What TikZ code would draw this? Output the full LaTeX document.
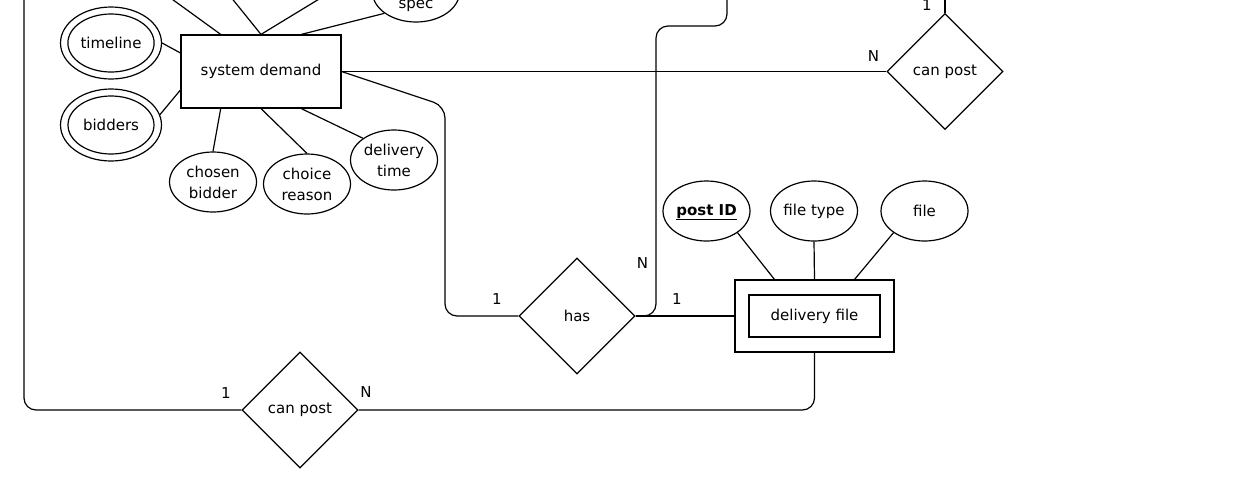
\documentclass[tikz,border=0pt]{standalone}
\usepackage{fontspec}
\setmainfont{DejaVu Sans}
\usetikzlibrary{shapes.geometric,calc}
\begin{document}
\begin{tikzpicture}[x=1pt,y=-1pt, line width=1.2pt,
  font=\fontsize{15}{21}\selectfont,
  ent/.style={draw, rectangle, minimum width=160pt, minimum height=73pt, inner sep=0pt},
  attr/.style={draw, ellipse, minimum width=87pt, minimum height=60pt, inner sep=0pt, align=center},
  mvouter/.style={draw, ellipse, minimum width=101pt, minimum height=72pt, inner sep=0pt},
  mvinner/.style={draw, ellipse, minimum width=86pt, minimum height=58pt, inner sep=0pt},
  rel/.style={draw, diamond, minimum width=116pt, minimum height=116pt, inner sep=0pt},
  lbl/.style={inner sep=0pt},
  conn/.style={rounded corners=12pt}]
\useasboundingbox (0,0) rectangle (1233,499);
\clip (0,0) rectangle (1233,499);

% entities
\node[ent] (sd) at (261,71.5) {system demand};
\node[draw, minimum width=159pt, minimum height=72pt, inner sep=0pt] (df) at (814.5,316) {};
\node[draw, minimum width=131pt, minimum height=42pt, inner sep=0pt] (dfin) at (814.5,316) {delivery file};

% multivalued attributes
\node[mvouter] (tl) at (111,43) {};
\node[mvinner] (tlin) at (111,43) {timeline};
\node[mvouter] (bd) at (111,125) {};
\node[mvinner] (bdin) at (111,125) {bidders};

% attributes
\node[attr] (cb) at (213,182) {chosen\\bidder};
\node[attr] (cr) at (307,184) {choice\\reason};
\node[attr] (dt) at (394,160) {delivery\\time};
\node[attr] (spec) at (416,-8) {};
\node[lbl] (spect) at (416,5.5) {spec};
\node[attr, text height=11.2pt, text depth=3.2pt] (pid) at (706.5,211) {\underline{\textbf{post ID}}};
\node[attr] (ft) at (814,211) {file type};
\node[attr] (fl) at (924.5,211) {file};

% relationships
\node[rel] (has) at (577,316) {has};
\node[rel] (cpa) at (300,410) {can post};
\node[rel] (cpb) at (945,71.5) {can post};

% free ends beyond the top edge
\coordinate (ua) at (125,-35);
\coordinate (ub) at (205,-35);
\coordinate (uc) at (375,-35);
\coordinate (lefttop) at (24,-30);
\coordinate (midtop) at (727,-30);
\coordinate (righttop) at (945,-30);

% attribute links
\draw (tl.east) -- ($(sd.north west)!0.25!(sd.south west)$);
\draw (bd.12) -- ($(sd.north west)!0.75!(sd.south west)$);
\draw ($(sd.north west)!0.25!(sd.north east)$) -- (ua);
\draw (sd.north) -- (ub);
\draw (sd.north) -- (uc);
\draw ($(sd.north west)!0.75!(sd.north east)$) -- (spec.214);
\draw ($(sd.south west)!0.25!(sd.south east)$) -- (cb.north);
\draw (sd.south) -- (cr.north);
\draw ($(sd.south west)!0.75!(sd.south east)$) -- (dt.145);
\draw ($(df.north west)!0.25!(df.north east)$) -- (pid.-35);
\draw (df.north) -- (ft.south);
\draw ($(df.north west)!0.75!(df.north east)$) -- (fl.215);

% relationship links
\draw (sd.east) -- (cpb.west);
\draw[conn] (sd.east) -- (445,106) -- (445,316) -- (has.west);
\draw[conn] (has.east) -- (656,316) -- (656,26) -- (727,26) -- (midtop);
\draw (has.east) -- (df.west);
\draw[conn] (cpa.west) -- (24,410) -- (lefttop);
\draw[conn] (cpa.east) -- (df.south |- cpa.east) -- (df.south);
\draw (cpb.north) -- (righttop);

% cardinalities
\node[lbl] (ca) at (226,393.5) {1};
\node[lbl] (cb2) at (366,392.5) {N};
\node[lbl] (cc) at (497,299.5) {1};
\node[lbl] (cd) at (642.5,263) {N};
\node[lbl] (ce) at (677,299.5) {1};
\node[lbl] (cf) at (873.5,56) {N};
\node[lbl] (cg) at (927,5) {1};
\end{tikzpicture}
\end{document}
